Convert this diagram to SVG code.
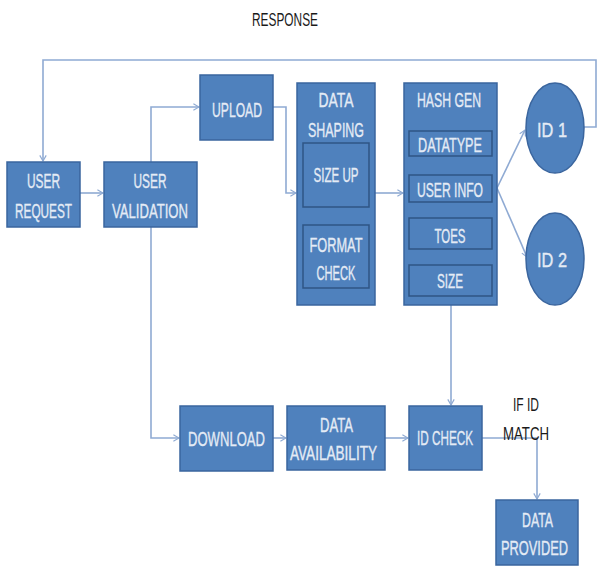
<svg xmlns="http://www.w3.org/2000/svg" width="598" height="568" viewBox="0 0 598 568">
<defs>
<marker id="arr" viewBox="0 0 10 10" refX="9" refY="5" markerWidth="8" markerHeight="8" markerUnits="userSpaceOnUse" orient="auto">
<polyline points="2,1 9,5 2,9" fill="none" stroke="#8FAAD3" stroke-width="1.5"/>
</marker>
</defs>
<style>
.box{fill:#4F81BD;stroke:#3A659E;stroke-width:1.5}
.inner{fill:#4F81BD;stroke:#2F5585;stroke-width:1.5}
.t{font-family:"Liberation Sans",Arial,sans-serif;font-size:20px;fill:#E4EBF5;stroke:#E4EBF5;stroke-width:0.35;text-anchor:middle}
.d{font-family:"Liberation Sans",Arial,sans-serif;font-size:19px;fill:#1a1a1a}
.c{fill:none;stroke:#8FAAD3;stroke-width:1.6}
</style>
<rect width="598" height="568" fill="#ffffff"/>
<text class="d" x="252" y="26" textLength="66" lengthAdjust="spacingAndGlyphs">RESPONSE</text>
<g id="connectors">
<polyline class="c" points="583,127 596,127 596,60 43,60 43,161" marker-end="url(#arr)"/>
<line class="c" x1="80" y1="193" x2="103" y2="193" marker-end="url(#arr)"/>
<polyline class="c" points="151,162 151,107 199,107" marker-end="url(#arr)"/>
<polyline class="c" points="273,107 286,107 286,193 296,193" marker-end="url(#arr)"/>
<line class="c" x1="375" y1="193" x2="403" y2="193" marker-end="url(#arr)"/>
<line class="c" x1="497" y1="188" x2="525" y2="130" marker-end="url(#arr)"/>
<line class="c" x1="497" y1="188" x2="527" y2="257" marker-end="url(#arr)"/>
<polyline class="c" points="151,227 151,438 179,438" marker-end="url(#arr)"/>
<line class="c" x1="273" y1="438" x2="286" y2="438" marker-end="url(#arr)"/>
<line class="c" x1="451" y1="305" x2="451" y2="405" marker-end="url(#arr)"/>
<line class="c" x1="385" y1="438" x2="408" y2="438" marker-end="url(#arr)"/>
<polyline class="c" points="482,438 537,438 537,499" marker-end="url(#arr)"/>
</g>
<g id="user-request">
<rect class="box" x="7" y="162" width="73" height="65"/>
<text class="t" x="43.5" y="188" textLength="33" lengthAdjust="spacingAndGlyphs">USER</text>
<text class="t" x="43.5" y="218" textLength="57" lengthAdjust="spacingAndGlyphs">REQUEST</text>
</g>
<g id="user-validation">
<rect class="box" x="104" y="162" width="93" height="65"/>
<text class="t" x="150" y="188" textLength="33" lengthAdjust="spacingAndGlyphs">USER</text>
<text class="t" x="150" y="218" textLength="76" lengthAdjust="spacingAndGlyphs">VALIDATION</text>
</g>
<g id="upload">
<rect class="box" x="200" y="75" width="73" height="65"/>
<text class="t" x="237" y="117" textLength="50" lengthAdjust="spacingAndGlyphs">UPLOAD</text>
</g>
<g id="data-shaping">
<rect class="box" x="297" y="83" width="78" height="222"/>
<text class="t" x="336" y="107" textLength="35" lengthAdjust="spacingAndGlyphs">DATA</text>
<text class="t" x="336" y="137" textLength="56" lengthAdjust="spacingAndGlyphs">SHAPING</text>
<rect class="inner" x="303" y="143" width="66" height="64"/>
<text class="t" x="336" y="182" textLength="45" lengthAdjust="spacingAndGlyphs">SIZE UP</text>
<rect class="inner" x="303" y="225" width="66" height="63"/>
<text class="t" x="336" y="252" textLength="53" lengthAdjust="spacingAndGlyphs">FORMAT</text>
<text class="t" x="336" y="280" textLength="39" lengthAdjust="spacingAndGlyphs">CHECK</text>
</g>
<g id="hash-gen">
<rect class="box" x="404" y="83" width="93" height="222"/>
<text class="t" x="449" y="107" textLength="64" lengthAdjust="spacingAndGlyphs">HASH GEN</text>
<rect class="inner" x="409" y="131" width="83" height="25"/>
<text class="t" x="450" y="152" textLength="64" lengthAdjust="spacingAndGlyphs">DATATYPE</text>
<rect class="inner" x="409" y="175" width="83" height="27"/>
<text class="t" x="450" y="197" textLength="66" lengthAdjust="spacingAndGlyphs">USER INFO</text>
<rect class="inner" x="409" y="218" width="83" height="31"/>
<text class="t" x="450" y="243" textLength="31" lengthAdjust="spacingAndGlyphs">TOES</text>
<rect class="inner" x="409" y="265" width="83" height="31"/>
<text class="t" x="450" y="288" textLength="26" lengthAdjust="spacingAndGlyphs">SIZE</text>
</g>
<g id="id1">
<ellipse class="box" cx="555" cy="128" rx="29" ry="45"/>
<text class="t" x="552" y="137" textLength="30" lengthAdjust="spacingAndGlyphs">ID 1</text>
</g>
<g id="id2">
<ellipse class="box" cx="555" cy="259" rx="29" ry="46"/>
<text class="t" x="552" y="267" textLength="30" lengthAdjust="spacingAndGlyphs">ID 2</text>
</g>
<g id="download">
<rect class="box" x="180" y="406" width="93" height="65"/>
<text class="t" x="226.5" y="446" textLength="77" lengthAdjust="spacingAndGlyphs">DOWNLOAD</text>
</g>
<g id="data-availability">
<rect class="box" x="287" y="406" width="98" height="64"/>
<text class="t" x="336.5" y="432" textLength="33" lengthAdjust="spacingAndGlyphs">DATA</text>
<text class="t" x="333.5" y="460" textLength="87" lengthAdjust="spacingAndGlyphs">AVAILABILITY</text>
</g>
<g id="id-check">
<rect class="box" x="409" y="406" width="73" height="64"/>
<text class="t" x="445" y="445" textLength="56" lengthAdjust="spacingAndGlyphs">ID CHECK</text>
</g>
<g id="if-id-match">
<text class="d" x="513" y="411" textLength="26" lengthAdjust="spacingAndGlyphs">IF ID</text>
<text class="d" x="503" y="440" textLength="46" lengthAdjust="spacingAndGlyphs">MATCH</text>
</g>
<g id="data-provided">
<rect class="box" x="496" y="500" width="82" height="65"/>
<text class="t" x="537.5" y="527" textLength="31" lengthAdjust="spacingAndGlyphs">DATA</text>
<text class="t" x="534.5" y="555" textLength="67" lengthAdjust="spacingAndGlyphs">PROVIDED</text>
</g>
</svg>
